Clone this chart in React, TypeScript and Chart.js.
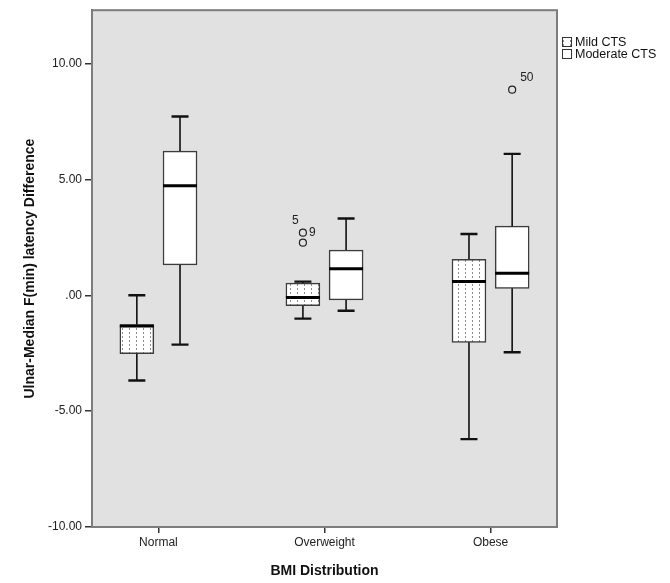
import React, { useEffect, useRef } from 'react';
import { Chart, registerables } from 'chart.js';

Chart.register(...registerables);

// ---------- data ----------
const categories = ['Normal', 'Overweight', 'Obese'];
const seriesNames = ['Mild CTS', 'Moderate CTS'];

const mildMin = [-3.68, -1.01, -6.21];
const mildQ1 = [-2.52, -0.45, -2.03];
const mildMedian = [-1.33, -0.1, 0.59];
const mildQ3 = [-1.27, 0.52, 1.55];
const mildMax = [0.0, 0.59, 2.64];

const moderateMin = [-2.13, -0.67, -2.46];
const moderateQ1 = [1.31, -0.2, 0.3];
const moderateMedian = [4.72, 1.14, 0.95];
const moderateQ3 = [6.22, 1.95, 2.98];
const moderateMax = [7.71, 3.31, 6.1];

const mildOutlierCategory = [1, 1];
const mildOutlierValues = [2.7, 2.27];
const mildOutlierCases = ['9', '5'];

const moderateOutlierCategory = [2];
const moderateOutlierValues = [8.87];
const moderateOutlierCases = ['50'];

const yTickValues = [-10, -5, 0, 5, 10];
const yMin = -10;
const yMax = 12.3;

// ---------- styles ----------
const FONT = "'Liberation Sans', Arial, Helvetica, sans-serif";
const GROUP_OFFSET = 0.13;
const BOX_WIDTH = 34;

function makePattern(): CanvasPattern | string {
  const c = document.createElement('canvas');
  c.width = 7;
  c.height = 4;
  const g = c.getContext('2d');
  if (!g) return '#ffffff';
  g.fillStyle = '#ffffff';
  g.fillRect(0, 0, 7, 4);
  g.fillStyle = '#8c8c8c';
  g.fillRect(3, 0, 1, 2);
  return g.createPattern(c, 'repeat') || '#ffffff';
}

const stats = [
  { min: mildMin, q1: mildQ1, med: mildMedian, q3: mildQ3, max: mildMax },
  { min: moderateMin, q1: moderateQ1, med: moderateMedian, q3: moderateQ3, max: moderateMax },
];

const outlierLabels: Record<number, { cases: string[]; offsets: [number, number][] }> = {
  2: { cases: mildOutlierCases, offsets: [[6, 0], [-11, -22]] },
  3: { cases: moderateOutlierCases, offsets: [[8, -12]] },
};

const boxPlugin = {
  id: 'boxplotExtras',
  beforeDraw(chart: any) {
    const { ctx, chartArea } = chart;
    ctx.save();
    ctx.fillStyle = '#e1e1e1';
    ctx.fillRect(chartArea.left, chartArea.top, chartArea.right - chartArea.left, chartArea.bottom - chartArea.top);
    ctx.restore();
  },
  beforeDatasetsDraw(chart: any) {
    const { ctx, chartArea } = chart;
    ctx.save();
    ctx.strokeStyle = '#7d7d7d';
    ctx.lineWidth = 2;
    ctx.strokeRect(chartArea.left, chartArea.top, chartArea.right - chartArea.left, chartArea.bottom - chartArea.top);
    ctx.restore();
  },
  afterDatasetsDraw(chart: any) {
    const { ctx } = chart;
    const y = chart.scales.y;
    ctx.save();
    stats.forEach((s, di) => {
      const meta = chart.getDatasetMeta(di);
      meta.data.forEach((bar: any, i: number) => {
        const cx = bar.x;
        const w = bar.width;
        const cap = w / 2;
        ctx.strokeStyle = '#111';
        ctx.lineWidth = 1.6;
        ctx.beginPath();
        ctx.moveTo(cx, y.getPixelForValue(s.q3[i]));
        ctx.lineTo(cx, y.getPixelForValue(s.max[i]));
        ctx.moveTo(cx, y.getPixelForValue(s.q1[i]));
        ctx.lineTo(cx, y.getPixelForValue(s.min[i]));
        ctx.stroke();
        ctx.lineWidth = 2.4;
        ctx.beginPath();
        ctx.moveTo(cx - cap / 2, y.getPixelForValue(s.max[i]));
        ctx.lineTo(cx + cap / 2, y.getPixelForValue(s.max[i]));
        ctx.moveTo(cx - cap / 2, y.getPixelForValue(s.min[i]));
        ctx.lineTo(cx + cap / 2, y.getPixelForValue(s.min[i]));
        ctx.stroke();
        ctx.lineWidth = 3;
        ctx.strokeStyle = '#000';
        ctx.beginPath();
        ctx.moveTo(cx - w / 2, y.getPixelForValue(s.med[i]));
        ctx.lineTo(cx + w / 2, y.getPixelForValue(s.med[i]));
        ctx.stroke();
      });
    });
    ctx.fillStyle = '#222';
    ctx.font = `12px ${FONT}`;
    ctx.textAlign = 'left';
    ctx.textBaseline = 'middle';
    Object.keys(outlierLabels).forEach((k) => {
      const di = Number(k);
      const info = outlierLabels[di];
      const meta = chart.getDatasetMeta(di);
      meta.data.forEach((pt: any, i: number) => {
        const off = info.offsets[i] || [6, 0];
        ctx.fillText(info.cases[i], pt.x + off[0], pt.y + off[1]);
      });
    });
    ctx.restore();
  },
  afterDraw(chart: any) {
    const { ctx, chartArea } = chart;
    const x0 = chartArea.right + 5;
    const rows = [37, 49];
    ctx.save();
    chart.data.datasets.slice(0, 2).forEach((ds: any, i: number) => {
      const top = rows[i];
      ctx.fillStyle = ds.backgroundColor;
      ctx.fillRect(x0, top, 10, 10);
      ctx.strokeStyle = '#333';
      ctx.lineWidth = 1;
      ctx.strokeRect(x0 + 0.5, top + 0.5, 9, 9);
      ctx.fillStyle = '#111';
      ctx.font = `12.5px ${FONT}`;
      ctx.textAlign = 'left';
      ctx.textBaseline = 'middle';
      ctx.fillText(ds.label, x0 + 13, top + 5.5);
    });
    ctx.restore();
  },
};

export default function App() {
  const ref = useRef<HTMLCanvasElement>(null);

  useEffect(() => {
    document.body.style.margin = '0';
    document.body.style.overflow = 'hidden';
    const canvas = ref.current;
    if (!canvas) return;
    const pattern = makePattern();

    const chart = new Chart(canvas, {
      type: 'bar',
      data: {
        datasets: [
          {
            label: seriesNames[0],
            data: categories.map((_, i) => ({ x: i + 1 - GROUP_OFFSET, y: [mildQ1[i], mildQ3[i]] })) as any,
            backgroundColor: pattern as any,
            borderColor: '#3c3c3c',
            borderWidth: 1.5,
            borderSkipped: false,
            grouped: false,
            barThickness: BOX_WIDTH,
          },
          {
            label: seriesNames[1],
            data: categories.map((_, i) => ({ x: i + 1 + GROUP_OFFSET, y: [moderateQ1[i], moderateQ3[i]] })) as any,
            backgroundColor: '#ffffff',
            borderColor: '#3c3c3c',
            borderWidth: 1.5,
            borderSkipped: false,
            grouped: false,
            barThickness: BOX_WIDTH,
          },
          {
            type: 'scatter',
            label: 'Mild outliers',
            data: mildOutlierValues.map((v, i) => ({ x: mildOutlierCategory[i] + 1 - GROUP_OFFSET, y: v })),
            pointRadius: 3.5,
            pointBorderWidth: 1.2,
            pointBorderColor: '#222',
            pointBackgroundColor: 'rgba(0,0,0,0)',
          } as any,
          {
            type: 'scatter',
            label: 'Moderate outliers',
            data: moderateOutlierValues.map((v, i) => ({ x: moderateOutlierCategory[i] + 1 + GROUP_OFFSET, y: v })),
            pointRadius: 3.5,
            pointBorderWidth: 1.2,
            pointBorderColor: '#222',
            pointBackgroundColor: 'rgba(0,0,0,0)',
          } as any,
        ],
      },
      options: {
        responsive: false,
        animation: false,
        events: [],
        layout: { padding: { left: 0, top: 8, right: 113, bottom: 0 } },
        plugins: {
          legend: { display: false },
          tooltip: { enabled: false },
        },
        scales: {
          x: {
            type: 'linear',
            min: 0.6,
            max: 3.4,
            offset: false,
            afterBuildTicks: (axis: any) => {
              axis.ticks = categories.map((_, i) => ({ value: i + 1 }));
            },
            afterFit: (axis: any) => {
              axis.height = 56;
            },
            ticks: {
              autoSkip: false,
              maxRotation: 0,
              padding: 2,
              color: '#222',
              font: { size: 12, family: FONT },
              callback: (v: any) => categories[Number(v) - 1] ?? '',
            },
            grid: {
              display: true,
              offset: false,
              drawOnChartArea: false,
              drawTicks: true,
              tickLength: 6,
              color: '#333',
              lineWidth: 1.5,
            },
            border: { display: true, color: '#4a4a4a', width: 2 },
            title: {
              display: true,
              text: 'BMI Distribution',
              color: '#111',
              font: { size: 14, weight: 'bold', family: FONT },
              padding: { top: 0, bottom: 3.6 },
            },
          },
          y: {
            type: 'linear',
            min: yMin,
            max: yMax,
            afterBuildTicks: (axis: any) => {
              axis.ticks = yTickValues.map((v) => ({ value: v }));
            },
            afterFit: (axis: any) => {
              axis.width = 92;
            },
            ticks: {
              padding: 3,
              color: '#222',
              font: { size: 12, family: FONT },
              callback: (v: any) => {
                const n = Number(v);
                if (n === 0) return '.00';
                return n.toFixed(2);
              },
            },
            grid: {
              display: true,
              drawOnChartArea: false,
              drawTicks: true,
              tickLength: 7,
              color: '#333',
              lineWidth: 1.5,
            },
            border: { display: true, color: '#4a4a4a', width: 2 },
            title: {
              display: true,
              text: 'Ulnar-Median F(min) latency Difference',
              color: '#111',
              font: { size: 14, weight: 'bold', family: FONT },
              padding: { top: 22, bottom: 0 },
            },
          },
        },
      } as any,
      plugins: [boxPlugin],
    });

    return () => chart.destroy();
  }, []);

  return (
    <div style={{ width: 670, height: 583 }}>
      <canvas ref={ref} width={670} height={583} style={{ display: 'block' }} />
    </div>
  );
}
